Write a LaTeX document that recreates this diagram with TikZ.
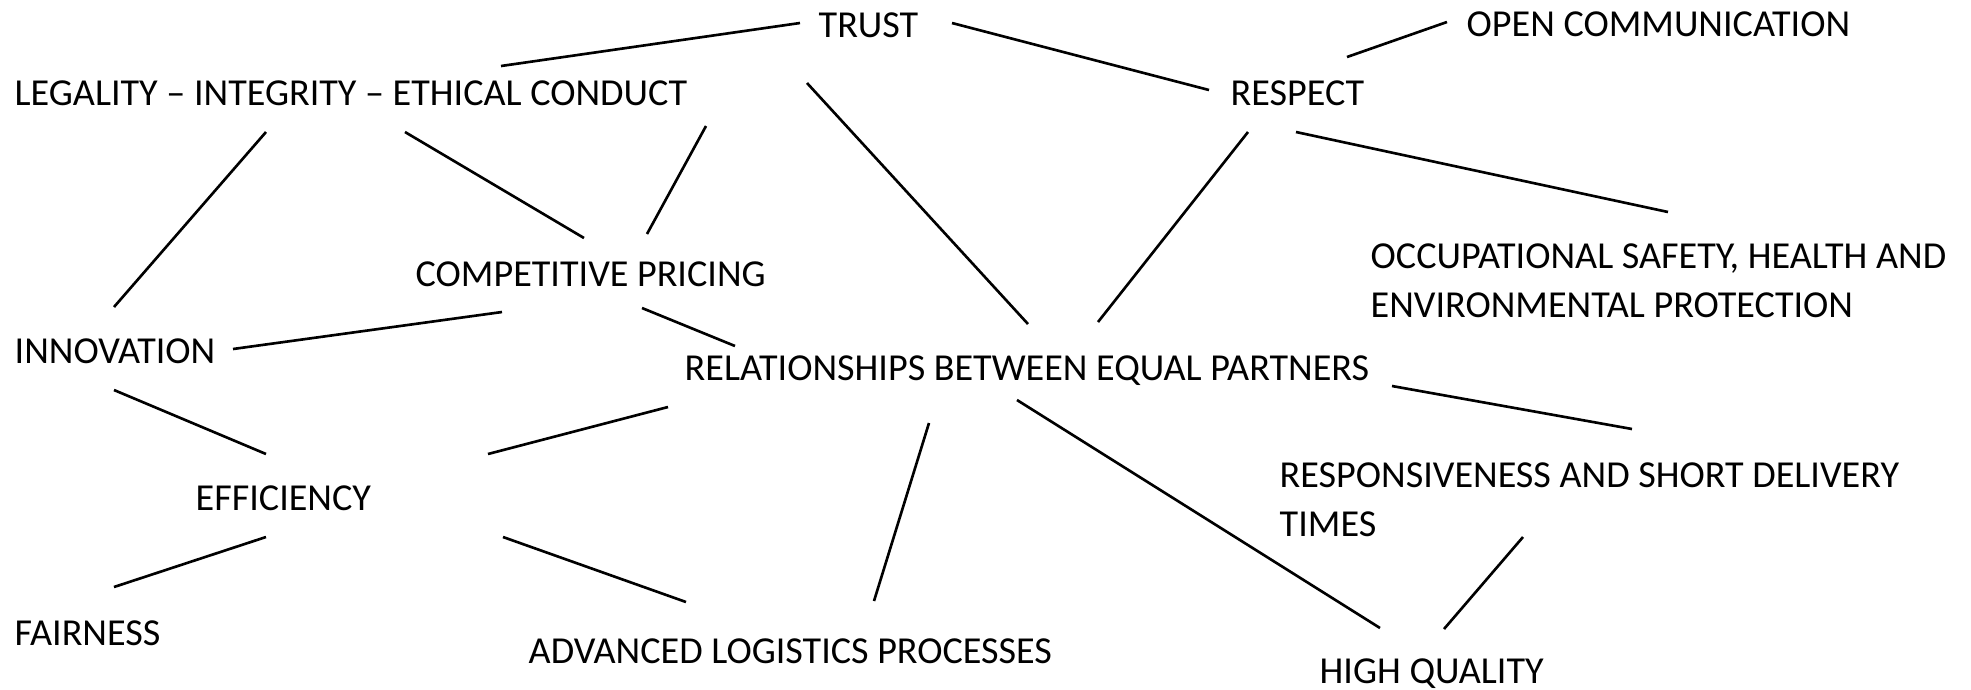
\documentclass[tikz,border=0pt]{standalone}
\usepackage{fontspec}
\setmainfont{Carlito}
\usetikzlibrary{calc}
\def\edgeline(#1)(#2)(#3)(#4){\draw[conn] ($(#1)+(#2)$) -- ($(#3)+(#4)$);}

\begin{document}
\begin{tikzpicture}[
	item/.style={anchor=base west, inner sep=0pt, font=\fontsize{10.85}{13.9}\selectfont},
	twoline/.style={item, anchor=north west, align=left},
	conn/.style={line width=0.75pt}]
			%%%%% START %%%%%
			\useasboundingbox (0,0) rectangle (19.71,-6.89);
			
			\node[item] (trust) at (8.18, -0.37) {TRUST};
			\node[item] (open) at (14.66, -0.36) {OPEN COMMUNICATION};
			\node[item] (legal) at (0.14, -1.05) {LEGALITY -- INTEGRITY -- ETHICAL CONDUCT};
			\node[item] (respect) at (12.30, -1.05) {RESPECT};
			\node[item] (pricing) at (4.15, -2.86) {COMPETITIVE PRICING};
			\node[twoline] (safety) at (13.70, -2.43) {OCCUPATIONAL SAFETY, HEALTH AND\\ENVIRONMENTAL PROTECTION};
			\node[item] (innov) at (0.14, -3.63) {INNOVATION};
			\node[item] (partners) at (6.84, -3.80) {RELATIONSHIPS BETWEEN EQUAL PARTNERS};
			\node[twoline] (delivery) at (12.79, -4.62) {RESPONSIVENESS AND SHORT DELIVERY\\TIMES};
			\node[item] (effic) at (1.95, -5.10) {EFFICIENCY};
			\node[item] (fair) at (0.14, -6.45) {FAIRNESS};
			\node[item] (logist) at (5.28, -6.63) {ADVANCED LOGISTICS PROCESSES};
			\node[item] (quality) at (13.19, -6.83) {HIGH QUALITY};
			
			\edgeline(legal.base west)(4.87, 0.39)(trust.base west)(-0.18, 0.14)
			\edgeline(trust.base west)(1.34, 0.14)(respect.base west)(-0.21, 0.15)
			\edgeline(respect.base west)(1.17, 0.48)(open.base west)(-0.19, 0.14)
			\edgeline(trust.base west)(-0.11, -0.46)(partners.base west)(3.44, 0.56)
			
			\edgeline(legal.base west)(2.52, -0.27)(innov.base west)(1.00, 0.56)
			\edgeline(legal.base west)(3.91, -0.27)(pricing.base west)(1.69, 0.48)
			\edgeline(legal.base west)(6.92, -0.21)(pricing.base west)(2.32, 0.52)
			\edgeline(respect.base west)(0.18, -0.27)(partners.base west)(4.14, 0.58)
			\edgeline(respect.base west)(0.66, -0.27)(safety.north west)(2.98, 0.31)
			
			\edgeline(pricing.base west)(0.87, -0.26)(innov.base west)(2.19, 0.14)
			\edgeline(pricing.base west)(2.27, -0.22)(partners.base west)(0.51, 0.34)
			\edgeline(innov.base west)(1.00, -0.27)(effic.base west)(0.71, 0.56)
			\edgeline(partners.base west)(-0.16, -0.27)(effic.base west)(2.93, 0.56)
			\edgeline(partners.base west)(2.45, -0.43)(logist.base west)(3.46, 0.62)
			\edgeline(partners.base west)(3.33, -0.20)(quality.base west)(0.61, 0.55)
			\edgeline(partners.base west)(7.08, -0.06)(delivery.north west)(3.53, 0.33)
			\edgeline(delivery.north west)(2.44, -0.75)(quality.base west)(1.25, 0.54)
			
			\edgeline(effic.base west)(0.71, -0.27)(fair.base west)(1.00, 0.58)
			\edgeline(effic.base west)(3.08, -0.27)(logist.base west)(1.58, 0.61)
			%%%%% END %%%%%
\end{tikzpicture}
\end{document}
